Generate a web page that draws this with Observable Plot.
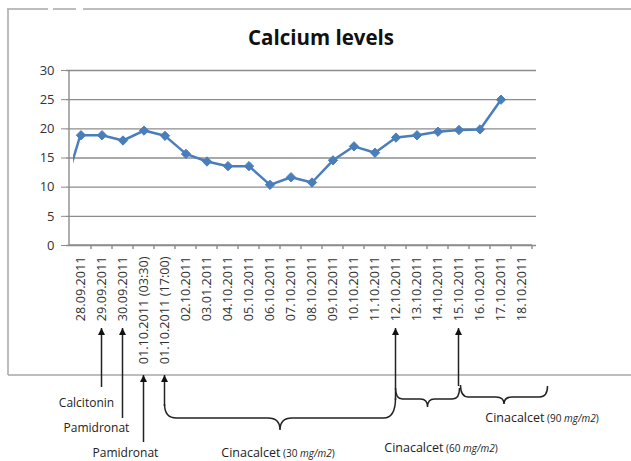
<!DOCTYPE html>
<html><head><meta charset="utf-8">
<script src="https://cdn.jsdelivr.net/npm/d3@7"></script>
<script src="https://cdn.jsdelivr.net/npm/@observablehq/plot@0.6"></script>
<style>
html,body{margin:0;padding:0;background:#fff;}
</style></head><body><div id="chart"></div>
<script>
const dates = ["28.09.2011","29.09.2011","30.09.2011","01.10.2011 (03:30)","01.10.2011 (17:00)","02.10.2011","03.01.2011","04.10.2011","05.10.2011","06.10.2011","07.10.2011","08.10.2011","09.10.2011","10.10.2011","11.10.2011","12.10.2011","13.10.2011","14.10.2011","15.10.2011","16.10.2011","17.10.2011","18.10.2011"];
const calcium = [18.9,18.9,18.0,19.7,18.8,15.7,14.4,13.6,13.6,10.4,11.7,10.8,14.6,17.0,15.9,18.5,18.9,19.5,19.8,19.9,25.0,null];
const leadIn = 7; // value of an earlier point, cut off at the left edge
const yTicks = [0,5,10,15,20,25,30];
const title = "Calcium levels";
const singleDrugs = [["29.09.2011","Calcitonin"],["30.09.2011","Pamidronat"],["01.10.2011 (03:30)","Pamidronat"]];
const doseStarts = [["01.10.2011 (17:00)","30"],["12.10.2011","60"],["15.10.2011","90"]];
const drugName = "Cinacalcet";
const doseUnit = "mg/m2";

const rows = dates.map((d,i)=>({date:d, value:calcium[i]}));
const blue = "#4a7ebb", grid = "#8c8c8c", ink = "#333";

const chart = Plot.plot({
  width: 631, height: 461,
  marginLeft: 66, marginRight: 95, marginTop: 70, marginBottom: 216,
  x: {type:"band", domain: dates, padding: 0, label: null},
  y: {domain:[0,30], label: null},
  style: {fontFamily: "'Open Sans', sans-serif", background: "white", overflow: "visible"},
  marks: [
    Plot.gridY(yTicks, {stroke: grid, strokeOpacity: 1, strokeWidth: 1.4}),
    Plot.axisY(yTicks, {tickSize: 5, tickPadding: 7, fontSize: 13, fill: ink, stroke: grid, label: null}),
    Plot.axisX({tickRotate: -90, tickSize: 0, tickPadding: 11, fontSize: 12.7, fill: "#333", label: null}),
    Plot.line(rows, {x: "date", y: "value", stroke: blue, strokeWidth: 2.5}),
    Plot.dot(rows, {x: "date", y: "value", symbol: "diamond2", r: 4.2, fill: blue, stroke: blue, strokeWidth: 1})
  ]
});
document.getElementById("chart").appendChild(chart);

const svg = d3.select(chart);
const xs = chart.scale("x"), ys = chart.scale("y");
const bw = xs.bandwidth;
const cx = c => xs.apply(c) + bw / 2;
const y0 = ys.apply(0), yTop = ys.apply(30);
const xL = xs.apply(dates[0]), xR = xs.apply(dates[dates.length-1]) + bw;

// axes lines and category boundary ticks
const g = svg.append("g").attr("stroke", grid).attr("stroke-width", 1.4).attr("fill", "none");
g.append("line").attr("x1", xL - 1).attr("x2", xL - 1).attr("y1", yTop).attr("y2", y0);
g.append("line").attr("x1", xL - 1).attr("x2", xR).attr("y1", y0).attr("y2", y0);
for (let i = 1; i <= dates.length; i++) {
  const x = xL + i * bw;
  g.append("line").attr("x1", x).attr("x2", x).attr("y1", y0).attr("y2", y0 + 4);
}

// lead-in segment clipped at the left
svg.append("clipPath").attr("id", "lc").append("rect")
  .attr("x", xL + 3).attr("y", 0).attr("width", 600).attr("height", 461);
svg.insert("line", "g[aria-label='line']")
  .attr("clip-path", "url(#lc)")
  .attr("x1", cx(dates[0]) - bw).attr("y1", ys.apply(leadIn))
  .attr("x2", cx(dates[0])).attr("y2", ys.apply(calcium[0]))
  .attr("stroke", blue).attr("stroke-width", 2.5);

// title
svg.append("text").attr("x", 321).attr("y", 45).attr("text-anchor", "middle")
  .attr("font-family", "'Open Sans', sans-serif").attr("font-weight", "bold")
  .attr("font-size", 20.5).attr("fill", "#111").text(title);

// outer frame with broken top-left edge
const fr = svg.append("g").attr("stroke", "#a8a8a8").attr("stroke-width", 1.5).attr("fill", "none");
fr.append("path").attr("d", "M7,9H48M53,9H76M83,9H640M8,9V375M8,375H640");

// arrows
const defs = svg.append("defs");
defs.append("marker").attr("id", "ah").attr("viewBox", "0 0 10 10").attr("refX", 10).attr("refY", 5)
  .attr("markerWidth", 7).attr("markerHeight", 9).attr("markerUnits", "userSpaceOnUse").attr("orient", "auto")
  .append("path").attr("d", "M0,0L10,5L0,10Z").attr("fill", "#111");
const ann = svg.append("g").attr("stroke", "#222").attr("stroke-width", 1.5).attr("fill", "none");
const arrow = (x, tip, tail) => ann.append("line").attr("x1", x).attr("x2", x).attr("y1", tail).attr("y2", tip).attr("marker-end", "url(#ah)");
const singleTails = [[328, 387], [328, 418], [375, 442]];
singleDrugs.forEach(([c], i) => arrow(cx(c), singleTails[i][0], singleTails[i][1]));
const doseArrows = [[375, 406], [328, 400], [328, 386]];
doseStarts.forEach(([c], i) => arrow(cx(c), doseArrows[i][0], doseArrows[i][1]));

// braces
function brace(x1, x2, yl, yr, yh, tip, r) {
  const xm = (x1 + x2) / 2;
  return `M${x1},${yl}Q${x1},${yh} ${x1 + r},${yh}L${xm - r},${yh}Q${xm},${yh} ${xm},${tip}` +
         `Q${xm},${yh} ${xm + r},${yh}L${x2 - r},${yh}Q${x2},${yh} ${x2},${yr}`;
}
const b1 = cx(doseStarts[0][0]), b2 = cx(doseStarts[1][0]), b3 = cx(doseStarts[2][0]);
ann.append("path").attr("d", brace(b1, b2, 404, 398, 418, 430, 12));
ann.append("path").attr("d", brace(b2, b3 + 1, 388, 388, 399, 407, 7));
ann.append("path").attr("d", brace(b3 + 2, b3 + 89, 385, 386, 397, 404, 8));

// labels
const lab = svg.append("g").attr("font-family", "'Open Sans', sans-serif").attr("fill", "#222").attr("text-anchor", "middle");
const singlePos = [[-15, 407], [-26, 432], [-18, 457]];
singleDrugs.forEach(([c, name], i) =>
  lab.append("text").attr("x", cx(c) + singlePos[i][0]).attr("y", singlePos[i][1]).attr("font-size", 12).text(name));
const dosePos = [[(b1 + b2) / 2 - 2, 457], [441, 452], [542, 422]];
doseStarts.forEach(([c, dose], i) => {
  const t = lab.append("text").attr("x", dosePos[i][0]).attr("y", dosePos[i][1]).attr("font-size", 12.5);
  t.append("tspan").text(drugName);
  t.append("tspan").attr("font-size", 10).text(" (" + dose + " ");
  t.append("tspan").attr("font-size", 10).attr("font-style", "italic").text(doseUnit);
  t.append("tspan").attr("font-size", 10).text(")");
});
</script>
</body></html>
